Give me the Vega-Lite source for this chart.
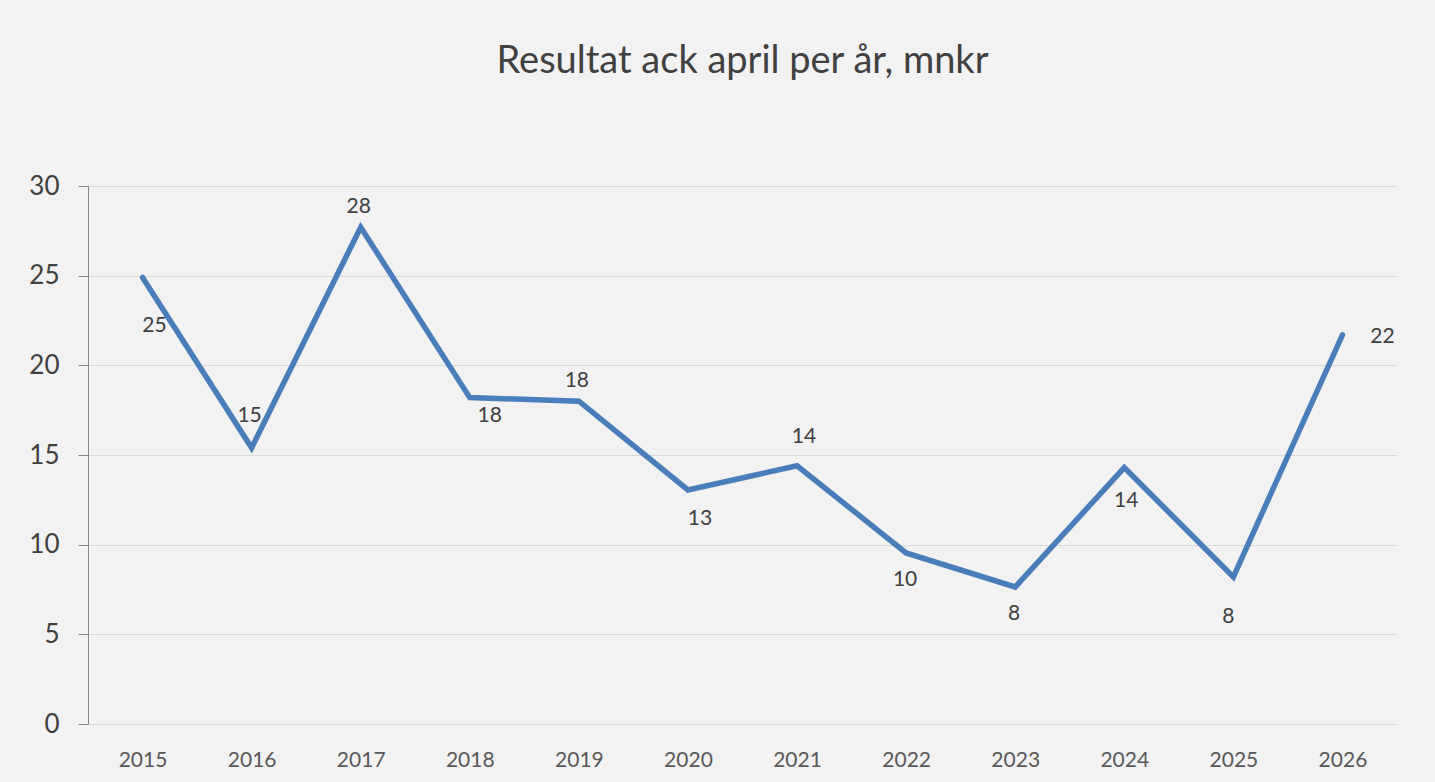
{
  "$schema": "https://vega.github.io/schema/vega-lite/v6.json",
  "autosize": "none",
  "width": 1309,
  "height": 538,
  "padding": {"left": 88, "top": 186, "right": 38, "bottom": 58},
  "background": "#f2f2f2",
  "config": {
    "view": {"stroke": null},
    "font": "Lato",
    "title": {"font": "Lato", "fontSize": 38, "fontWeight": "normal", "color": "#404040", "offset": 92, "anchor": "middle"}
  },
  "title": "Resultat ack april per år, mnkr",
  "data": {
    "values": [
      {"year": "2015", "value": 24.9},
      {"year": "2016", "value": 15.4},
      {"year": "2017", "value": 27.7},
      {"year": "2018", "value": 18.2},
      {"year": "2019", "value": 18.0},
      {"year": "2020", "value": 13.05},
      {"year": "2021", "value": 14.4},
      {"year": "2022", "value": 9.54},
      {"year": "2023", "value": 7.64},
      {"year": "2024", "value": 14.3},
      {"year": "2025", "value": 8.2},
      {"year": "2026", "value": 21.7}
    ]
  },
  "encoding": {
    "x": {"field": "year", "type": "ordinal", "scale": {"type": "point", "padding": 0.5},
      "axis": {"title": null, "labelAngle": 0, "domain": false, "ticks": false, "labelPadding": 25, "labelFontSize": 21, "labelColor": "#595959", "labelFont": "Lato"}},
    "y": {"field": "value", "type": "quantitative", "scale": {"domain": [0, 30], "nice": false},
      "axis": {"title": null, "values": [0, 5, 10, 15, 20, 25, 30], "gridColor": "#d9d9d9", "gridWidth": 1.2, "domainColor": "#868686", "tickColor": "#868686", "tickSize": 10, "labelPadding": 19, "labelFontSize": 26, "labelColor": "#404040", "labelFont": "Lato"}}
  },
  "layer": [
    {"mark": {"type": "line", "color": "#4a7ebb", "strokeWidth": 5.5, "strokeCap": "round", "strokeJoin": "miter"}},
    {"transform": [{"filter": {"field": "year", "oneOf": ["2015"]}}],
     "mark": {"type": "text", "dx": 12, "dy": 49, "fontSize": 21, "color": "#404040"},
     "encoding": {"text": {"field": "value", "type": "quantitative", "format": ".0f"}}},
    {"transform": [{"filter": {"field": "year", "oneOf": ["2016"]}}],
     "mark": {"type": "text", "dx": -2, "dy": -32, "fontSize": 21, "color": "#404040"},
     "encoding": {"text": {"field": "value", "type": "quantitative", "format": ".0f"}}},
    {"transform": [{"filter": {"field": "year", "oneOf": ["2017", "2019"]}}],
     "mark": {"type": "text", "dx": -2, "dy": -20, "fontSize": 21, "color": "#404040"},
     "encoding": {"text": {"field": "value", "type": "quantitative", "format": ".0f"}}},
    {"transform": [{"filter": {"field": "year", "oneOf": ["2018"]}}],
     "mark": {"type": "text", "dx": 20, "dy": 18, "fontSize": 21, "color": "#404040"},
     "encoding": {"text": {"field": "value", "type": "quantitative", "format": ".0f"}}},
    {"transform": [{"filter": {"field": "year", "oneOf": ["2020"]}}],
     "mark": {"type": "text", "dx": 12, "dy": 29, "fontSize": 21, "color": "#404040"},
     "encoding": {"text": {"field": "value", "type": "quantitative", "format": ".0f"}}},
    {"transform": [{"filter": {"field": "year", "oneOf": ["2021"]}}],
     "mark": {"type": "text", "dx": 7, "dy": -29, "fontSize": 21, "color": "#404040"},
     "encoding": {"text": {"field": "value", "type": "quantitative", "format": ".0f"}}},
    {"transform": [{"filter": {"field": "year", "oneOf": ["2022", "2023"]}}],
     "mark": {"type": "text", "dx": -1, "dy": 27, "fontSize": 21, "color": "#404040"},
     "encoding": {"text": {"field": "value", "type": "quantitative", "format": ".0f"}}},
    {"transform": [{"filter": {"field": "year", "oneOf": ["2024"]}}],
     "mark": {"type": "text", "dx": 2, "dy": 33, "fontSize": 21, "color": "#404040"},
     "encoding": {"text": {"field": "value", "type": "quantitative", "format": ".0f"}}},
    {"transform": [{"filter": {"field": "year", "oneOf": ["2025"]}}],
     "mark": {"type": "text", "dx": -5, "dy": 40, "fontSize": 21, "color": "#404040"},
     "encoding": {"text": {"field": "value", "type": "quantitative", "format": ".0f"}}},
    {"transform": [{"filter": {"field": "year", "oneOf": ["2026"]}}],
     "mark": {"type": "text", "dx": 40, "dy": 2, "fontSize": 21, "color": "#404040"},
     "encoding": {"text": {"field": "value", "type": "quantitative", "format": ".0f"}}}
  ]
}
